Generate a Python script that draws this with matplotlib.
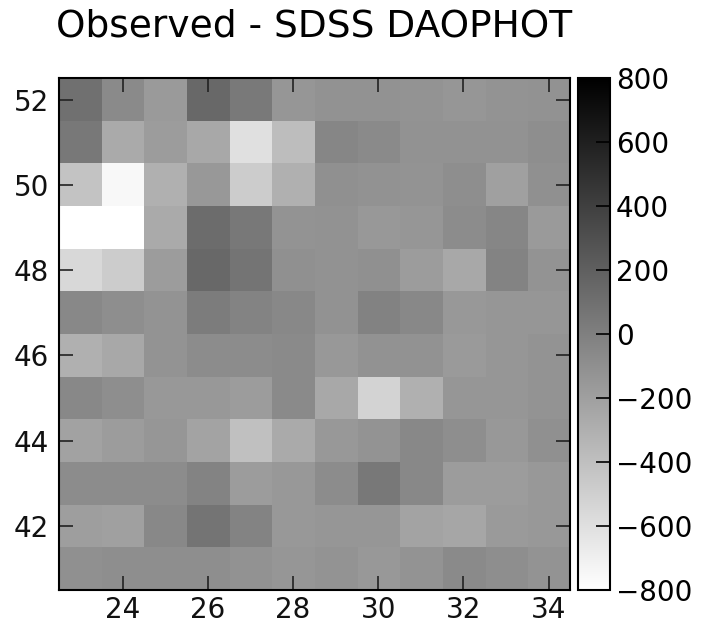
import numpy as np
import matplotlib
matplotlib.use("Agg")
import matplotlib.pyplot as plt

# Residual map (observed - SDSS DAOPHOT), rows from y=52 (top) down to y=41
x_centers = list(range(23, 35))
y_centers = list(range(52, 40, -1))

row_52 = [97, -66, -166, 147, 34, -141, -116, -116, -129, -141, -129, -116]
row_51 = [47, -267, -179, -254, -606, -386, -41, -66, -116, -116, -116, -91]
row_50 = [-430, -756, -304, -154, -480, -304, -104, -116, -129, -91, -204, -104]
row_49 = [-900, -900, -267, 122, 47, -129, -116, -154, -141, -78, -41, -166]
row_48 = [-555, -480, -179, 147, 72, -104, -116, -104, -179, -254, -28, -129]
row_47 = [-53, -91, -129, 22, -28, -53, -116, -16, -53, -154, -141, -141]
row_46 = [-304, -254, -129, -78, -78, -66, -154, -116, -116, -166, -141, -129]
row_45 = [-53, -91, -154, -154, -179, -66, -254, -530, -304, -141, -141, -129]
row_44 = [-217, -179, -141, -229, -405, -267, -154, -129, -53, -91, -154, -104]
row_43 = [-78, -78, -78, -28, -179, -154, -78, 47, -53, -179, -179, -154]
row_42 = [-191, -204, -53, 72, -28, -154, -141, -141, -229, -242, -166, -154]
row_41 = [-104, -91, -91, -91, -116, -141, -129, -154, -129, -66, -91, -129]

x_ticks = [24, 26, 28, 30, 32, 34]
y_ticks = [42, 44, 46, 48, 50, 52]
cbar_ticks = [-800, -600, -400, -200, 0, 200, 400, 600, 800]

grid = np.array([row_52, row_51, row_50, row_49, row_48, row_47,
                 row_46, row_45, row_44, row_43, row_42, row_41], dtype=float)

fig = plt.figure(figsize=(7.01, 6.26), dpi=100)
ax = fig.add_axes([0.084, 0.0575, 0.729, 0.8175])
cax = fig.add_axes([0.8245, 0.0575, 0.046, 0.8175])

extent = [x_centers[0] - 0.5, x_centers[-1] + 0.5,
          y_centers[-1] - 0.5, y_centers[0] + 0.5]
im = ax.imshow(grid, cmap="gray_r", vmin=-800, vmax=800, extent=extent,
               interpolation="nearest", aspect="auto", origin="upper")

ax.set_xticks(x_ticks)
ax.set_yticks(y_ticks)
ax.tick_params(direction="in", top=True, right=True, length=10, width=1.2,
               labelsize=20, colors="#222222", labelcolor="#111111")
ax.tick_params(axis="x", pad=4)
ax.tick_params(axis="y", pad=7)
for s in ax.spines.values():
    s.set_linewidth(1.5)
ax.set_title("Observed - SDSS DAOPHOT", fontsize=27, pad=30, loc="left",
             x=-0.005)

cb = fig.colorbar(im, cax=cax, ticks=cbar_ticks)
cb.ax.tick_params(direction="in", length=10, width=1.2, labelsize=20, pad=4)
cb.outline.set_linewidth(1.5)

fig.savefig("out.png", dpi=100)
